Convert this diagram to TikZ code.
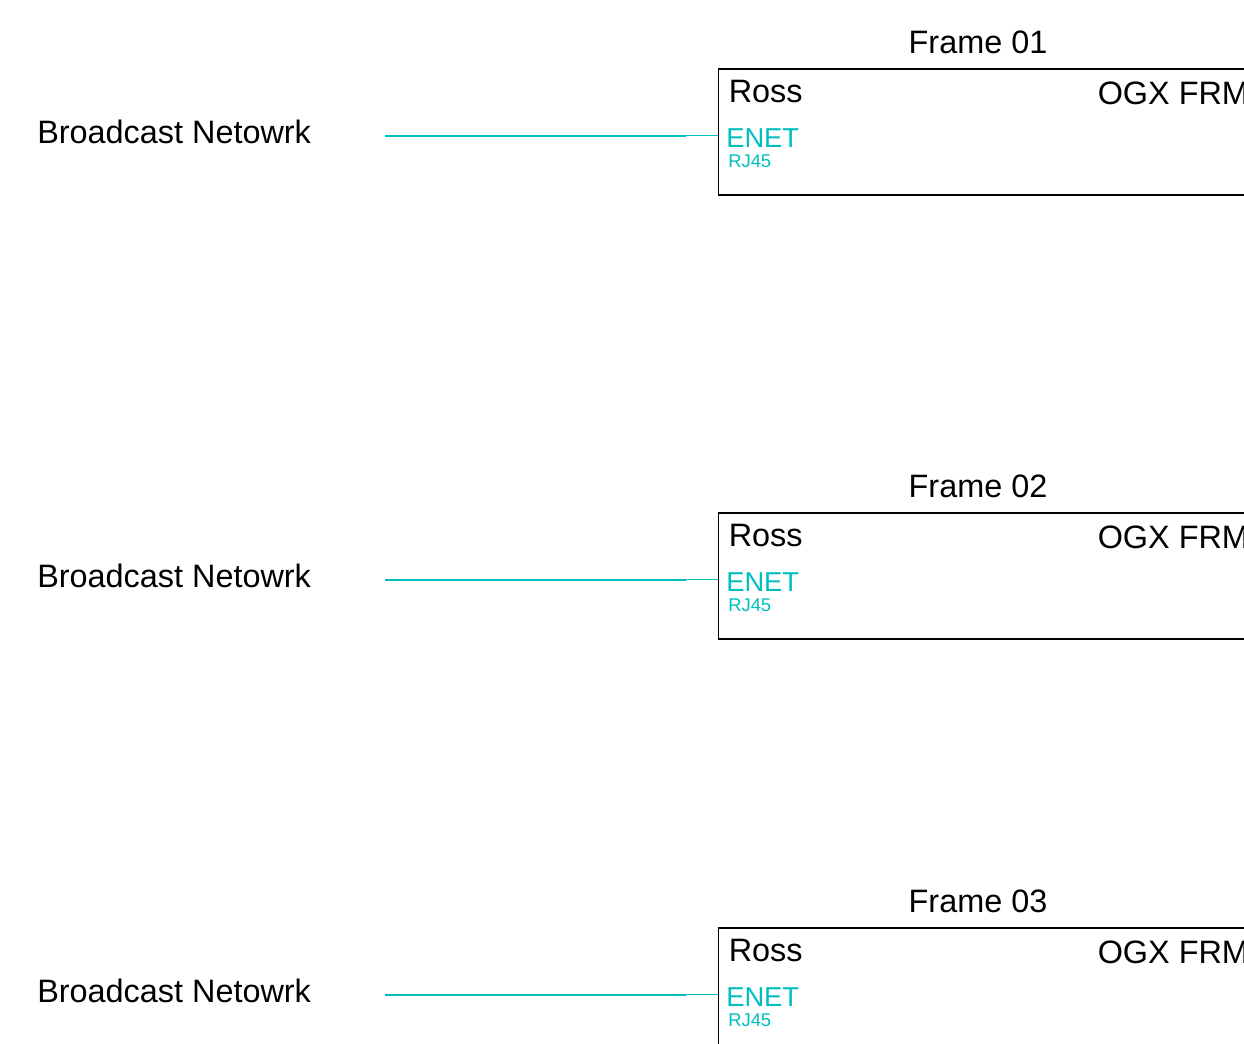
\documentclass[tikz,border=0pt]{standalone}
\usepackage{fontspec}
\setmainfont{Liberation Sans}
\usepackage{tikz}

\definecolor{netcyan}{RGB}{0,190,190}
\tikzset{
  biglbl/.style={font=\fontsize{24.3}{29}\selectfont,inner sep=0pt,anchor=base west},
  portlbl/.style={font=\fontsize{20.5}{24}\selectfont,text=netcyan,inner sep=0pt,anchor=base west},
  typelbl/.style={font=\fontsize{13.8}{16}\selectfont,text=netcyan,inner sep=0pt,anchor=base west},
  framebox/.style={draw,line width=1.2pt,anchor=north west,minimum width=436pt,minimum height=94.5pt,inner sep=0pt},
  netline/.style={netcyan,line width=1.5pt},
  portline/.style={netcyan,line width=0.75pt}
}

\begin{document}
\begin{tikzpicture}[x=0.75pt,y=-0.75pt]
      \useasboundingbox (0,0) rectangle (1244,1043);
      \clip (0,0) rectangle (1244,1043);
      \foreach \n/\t in {01/68,02/512,03/927}{
        \node[framebox] (frame\n) at (717.5,\t) {};
        \node[font=\fontsize{24.3}{29}\selectfont,inner sep=0pt,anchor=base] (title\n) at (978,\t-15) {Frame \n};
        \node[biglbl] (maker\n) at (728.5,\t+34) {Ross};
        \node[biglbl] (model\n) at (1097.5,\t+36) {OGX FRM};
        \node[portlbl] (enet\n) at (726,\t+79) {ENET};
        \node[typelbl] (rj\n) at (728,\t+99) {RJ45};
        \node[biglbl] (net\n) at (37,\t+75) {Broadcast Netowrk};
        \coordinate (netend\n) at (385,\t+67.5);
        \coordinate (joint\n) at (686,\t+67.5);
        \draw[netline] (netend\n) -- (joint\n);
        \draw[portline] (joint\n) -- (frame\n.west |- joint\n);
      }
    \end{tikzpicture}
\end{document}
